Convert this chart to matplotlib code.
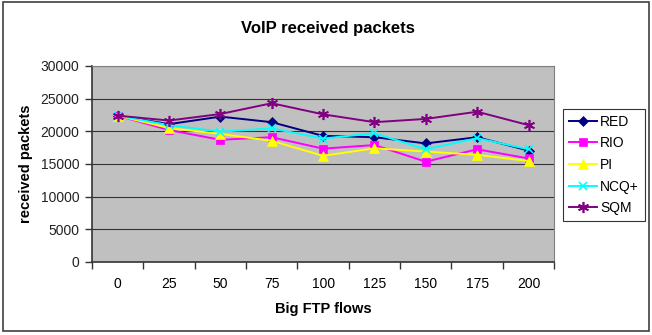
import numpy as np
import matplotlib
matplotlib.use('Agg')
import matplotlib.pyplot as plt
from matplotlib.patches import Rectangle

plt.rcParams['font.family'] = ['Liberation Sans', 'DejaVu Sans']

flows = ['0', '25', '50', '75', '100', '125', '150', '175', '200']
red = [22400, 21100, 22250, 21400, 19300, 19100, 18150, 19100, 17050]
rio = [22400, 20200, 18700, 19100, 17350, 17900, 15350, 17250, 15850]
pi = [22400, 20500, 19600, 18550, 16250, 17400, 16900, 16400, 15450]
ncq = [22400, 20950, 19950, 20450, 18900, 19700, 17250, 18950, 17250]
sqm = [22400, 21650, 22650, 24300, 22600, 21400, 21900, 23000, 20950]

series = [
    ('RED', red, '#000080', 'D', 5),
    ('RIO', rio, '#FF00FF', 's', 5.5),
    ('PI', pi, '#FFFF00', '^', 6.5),
    ('NCQ+', ncq, '#00FFFF', 'x', 6),
    ('SQM', sqm, '#800080', (6, 2, 0), 8),
]

fig = plt.figure(figsize=(6.52, 3.35), dpi=100)
fig.patches.append(Rectangle((0.004, 0.012), 0.992, 0.982, transform=fig.transFigure,
                             fill=False, edgecolor='#404040', linewidth=1.2))

ax = fig.add_axes([0.141, 0.218, 0.709, 0.585])
ax.set_facecolor('#C0C0C0')
x = np.arange(len(flows))
for name, vals, col, mk, ms in series:
    ax.plot(x, vals, color=col, marker=mk, markersize=ms, linewidth=1.4,
            markeredgewidth=1.2 if mk in ('x', (6, 2, 0)) else 0.5,
            markeredgecolor=col, label=name)

ax.set_ylim(0, 30000)
ax.set_yticks(np.arange(0, 30001, 5000))
ax.set_xlim(-0.5, len(flows) - 0.5)
ax.set_xticks(np.arange(-0.5, len(flows), 1.0))
ax.set_xticklabels([])
ax.set_xticks(x, minor=True)
ax.set_xticklabels(flows, minor=True)
ax.tick_params(axis='x', which='minor', length=0, pad=11)
ax.tick_params(axis='x', which='major', length=5, width=1, color='#333333')
ax.tick_params(axis='y', length=5, width=1, color='#333333', pad=4)
ax.tick_params(labelsize=10, labelcolor='#222222')
for lbl in ax.get_xticklabels(minor=True):
    lbl.set_fontsize(10)
ax.grid(axis='y', color='#333333', linewidth=0.8)
ax.set_axisbelow(True)
for s in ('left', 'bottom'):
    ax.spines[s].set_color('#333333')
    ax.spines[s].set_linewidth(1.2)
for s in ('top', 'right'):
    ax.spines[s].set_color('#808080')
    ax.spines[s].set_linewidth(0.8)

ax.set_xlabel('Big FTP flows', fontsize=10.5, fontweight='bold')
ax.set_ylabel('received packets', fontsize=10.5, fontweight='bold')
ax.xaxis.set_label_coords(0.5, -0.205)
ax.yaxis.set_label_coords(-0.128, 0.5)
fig.text(0.503, 0.915, 'VoIP received packets', ha='center', va='center',
         fontsize=12, fontweight='bold')

leg = ax.legend(loc='center left', bbox_to_anchor=(1.02, 0.495), fontsize=10,
                frameon=True, fancybox=False, edgecolor='#000000',
                borderpad=0.4, labelspacing=0.55, handlelength=2.0,
                handletextpad=0.25, borderaxespad=0)
leg.get_frame().set_linewidth(0.8)

fig.savefig('out.png', dpi=100)
